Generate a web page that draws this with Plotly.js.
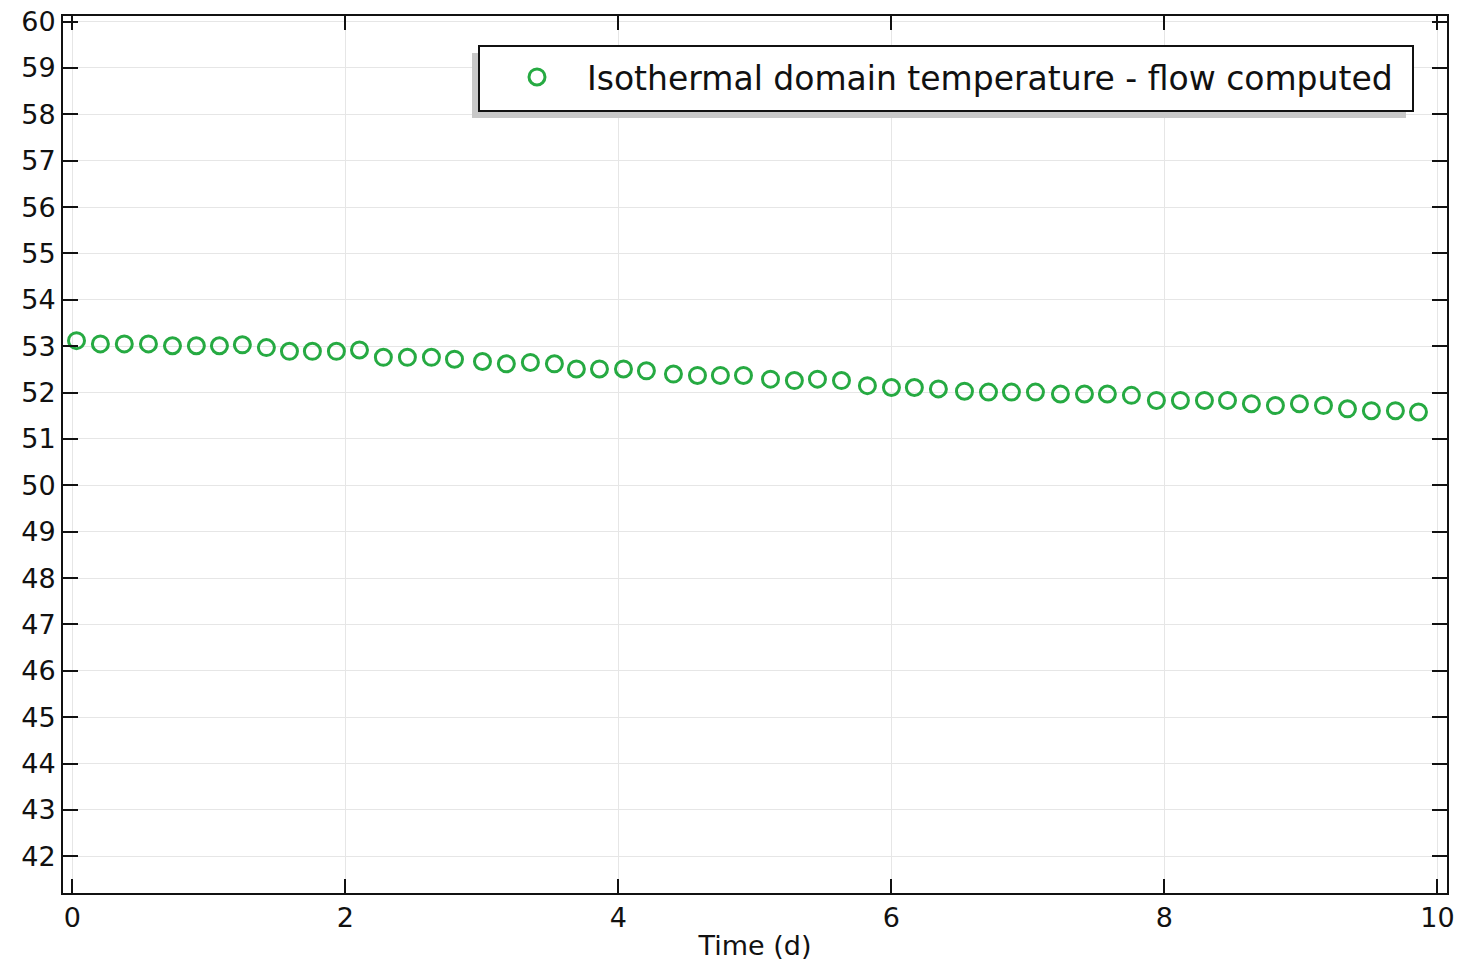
<!DOCTYPE html>
<html>
<head>
<meta charset="utf-8">
<script src="https://cdn.plot.ly/plotly-3.0.1.min.js"></script>
<style>html,body{margin:0;padding:0;background:#fff;}#chart{width:1464px;height:963px;}</style>
</head>
<body>
<div id="chart"></div>
<script>
const seriesName = "Isothermal domain temperature - flow computed";
const timeDays = [0.03,0.205,0.38,0.557,0.733,0.908,1.077,1.245,1.421,1.59,
  1.758,1.934,2.103,2.278,2.454,2.63,2.799,3.004,3.179,3.355,
  3.531,3.692,3.861,4.037,4.205,4.403,4.579,4.747,4.916,5.114,
  5.289,5.458,5.634,5.824,6.0,6.168,6.344,6.535,6.711,6.879,
  7.055,7.238,7.414,7.582,7.758,7.941,8.117,8.293,8.462,8.637,
  8.813,8.989,9.165,9.341,9.516,9.692,9.861];
const temperature = [53.12,53.05,53.05,53.05,53.01,53.01,53.01,53.03,52.97,52.89,
  52.89,52.89,52.92,52.76,52.76,52.76,52.72,52.67,52.62,52.65,
  52.62,52.51,52.51,52.51,52.47,52.40,52.37,52.37,52.37,52.29,
  52.26,52.29,52.26,52.15,52.11,52.11,52.08,52.03,52.01,52.01,
  52.01,51.97,51.97,51.97,51.94,51.83,51.83,51.83,51.83,51.76,
  51.72,51.76,51.72,51.65,51.61,51.61,51.58];
const xTitle = "Time (d)";

const green = "rgb(38,170,66)";
const trace = {
  x: timeDays, y: temperature, type: "scatter", mode: "markers",
  name: seriesName,
  marker: {symbol: "circle-open", size: 16, color: green, line: {width: 3, color: green}}
};
const axisCommon = {
  showline: true, linecolor: "#111", linewidth: 2, mirror: "ticks",
  ticks: "inside", tickcolor: "#111", tickwidth: 2,
  showgrid: true, gridcolor: "#e6e6e6", gridwidth: 1, zeroline: false,
  tickfont: {family: "DejaVu Sans", size: 27, color: "#111"}
};
// pixel helpers for paper coords (plot area 63..1447 x 16..893)
const px = v => (v - 63) / 1384;
const py = v => 1 - (v - 16) / 877;
const layout = {
  width: 1464, height: 963,
  margin: {l: 63, r: 17, t: 16, b: 70},
  paper_bgcolor: "#fff", plot_bgcolor: "#fff",
  showlegend: true,
  xaxis: Object.assign({}, axisCommon, {
    range: [-0.069, 10.07], dtick: 2, tick0: 0, ticklen: 14,
    title: {text: xTitle, font: {family: "DejaVu Sans", size: 27, color: "#111"}, standoff: 4}
  }),
  yaxis: Object.assign({}, axisCommon, {
    range: [41.21, 60.12], dtick: 1, tick0: 42, ticklen: 15
  }),
  legend: {
    x: px(487), xanchor: "left", y: py(77), yanchor: "middle",
    bgcolor: "rgba(0,0,0,0)", borderwidth: 0,
    font: {family: "DejaVu Sans", size: 33, color: "#111"},
    itemwidth: 90
  },
  shapes: [{
    type: "rect", xref: "paper", yref: "paper", layer: "above",
    x0: px(472), x1: px(1406), y0: py(118), y1: py(53),
    fillcolor: "#c8c8c8", line: {width: 0}
  }, {
    type: "rect", xref: "paper", yref: "paper", layer: "above",
    x0: px(479), x1: px(1413), y0: py(111), y1: py(46),
    fillcolor: "#fff", line: {width: 2, color: "#111"}
  }]
};
Plotly.newPlot("chart", [trace], layout, {displayModeBar: false, staticPlot: true});
</script>
</body>
</html>
